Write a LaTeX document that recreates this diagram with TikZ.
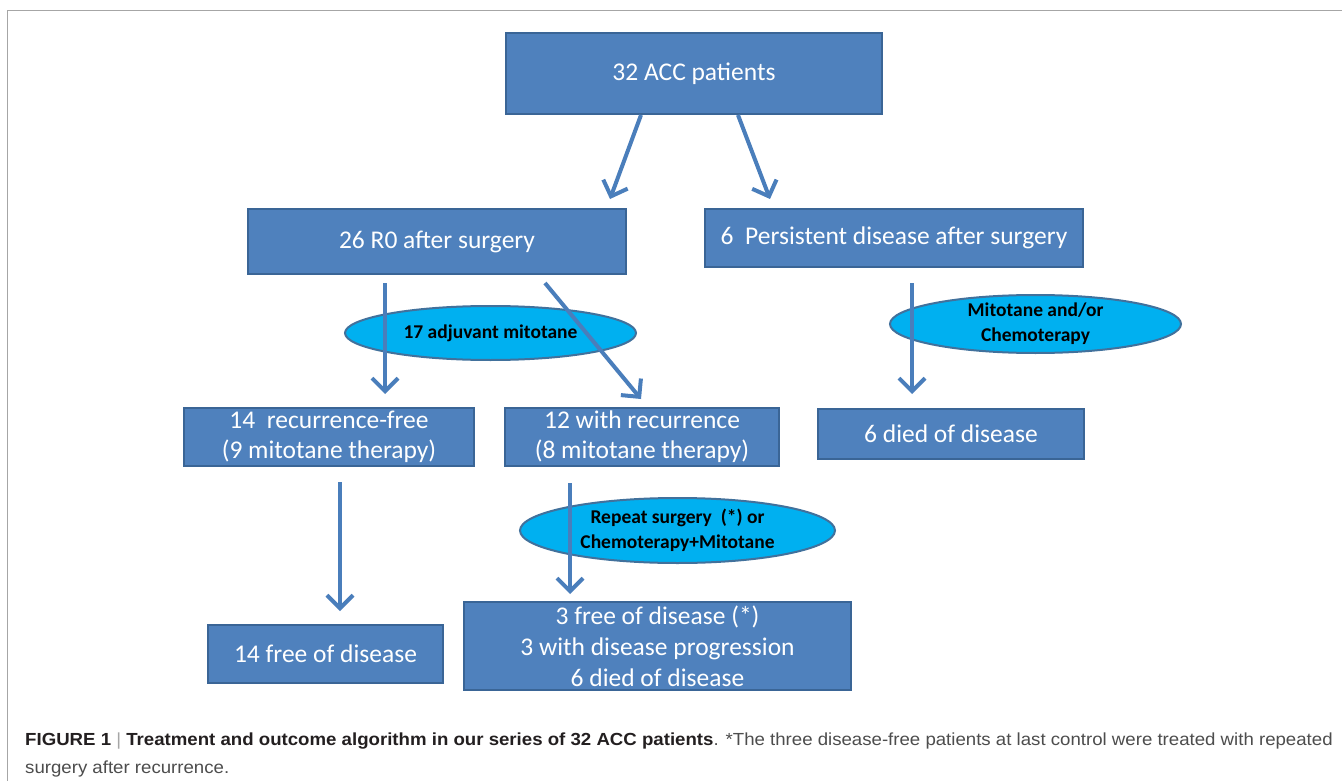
\documentclass[tikz,border=0pt]{standalone}
\usepackage{fontspec}
\setmainfont{Carlito}
\newfontfamily\capfont[FakeStretch=1.065]{Liberation Sans}
\usetikzlibrary{arrows.meta,shapes.geometric}
\definecolor{boxfill}{HTML}{4F81BD}
\definecolor{boxdraw}{HTML}{3A6596}
\definecolor{ellfill}{HTML}{00B0F0}
\definecolor{elldraw}{HTML}{41719C}
\definecolor{arrowc}{HTML}{4A7EBB}
\definecolor{framec}{HTML}{A6A6A6}
\definecolor{capgray}{HTML}{4D4D4D}
\definecolor{capdark}{HTML}{231F20}
\begin{document}
\begin{tikzpicture}[x=1pt,y=-1pt,
  box/.style={draw=boxdraw,fill=boxfill,line width=2pt,text=white,
    font=\fontsize{25.5}{30}\selectfont,align=center,inner sep=0pt},
  oval/.style={ellipse,draw=elldraw,fill=ellfill,line width=2pt,inner sep=0pt},
  ovaltext/.style={font=\bfseries\fontsize{19.5}{25}\selectfont,align=center,inner sep=0pt},
  flow/.style={draw=arrowc,line width=4pt,-{Straight Barb[length=13pt,width=26pt]}},
  captext/.style={anchor=base west,inner sep=0pt,font=\capfont\fontsize{17.5}{20}\selectfont}]
\useasboundingbox[fill=white] (0,0) rectangle (1342,781);
\draw[framec,line width=1.5pt] (7.5,781) -- (7.5,10.5) -- (1342,10.5);
% boxes
\node[box,minimum width=376pt,minimum height=81pt] (b1) at (694,73.5) {32 ACC patients};
\node[box,minimum width=378pt,minimum height=65pt] (b2) at (437,241.5) {26 R0 after surgery};
\node[box,minimum width=378pt,minimum height=58pt] (b3) at (894,238) {6\ \ Persistent disease after surgery};
\node[box,minimum width=290pt,minimum height=58pt] (b4) at (329,437) {14\ \ recurrence-free\\(9 mitotane therapy)};
\node[box,minimum width=274pt,minimum height=58pt] (b5) at (642,437) {12 with recurrence\\(8 mitotane therapy)};
\node[box,minimum width=266pt,minimum height=50pt] (b6) at (951,434) {6 died of disease};
\node[box,minimum width=235pt,minimum height=58pt] (b7) at (325.5,654) {14 free of disease};
\node[box,minimum width=387pt,minimum height=88pt,font=\fontsize{25.5}{31}\selectfont] (b8) at (657.5,646) {3 free of disease (*)\\3 with disease progression\\6 died of disease};
% ellipses
\node[oval,minimum width=291pt,minimum height=54pt] (e1) at (490.5,333) {};
\node[ovaltext] (e1t) at (e1) {17 adjuvant mitotane};
\node[oval,minimum width=291pt,minimum height=58pt] (e2) at (1035.5,324) {};
\node[ovaltext] (e2t) at (e2) {Mitotane and/or\\Chemoterapy};
\node[oval,minimum width=315pt,minimum height=65pt] (e3) at (677.5,530.5) {};
\node[ovaltext] (e3t) at (e3) {Repeat surgery\ \ (*) or\\Chemoterapy+Mitotane};
% arrow ends
\coordinate (t1) at (610,199);
\coordinate (t2) at (770,199);
\coordinate (s3) at (385,283);
\coordinate (t3) at (385,394);
\coordinate (s4) at (545,283);
\coordinate (t4) at (641,399);
\coordinate (s5) at (912,283);
\coordinate (t5) at (912,394);
\coordinate (s6) at (340,482);
\coordinate (t6) at (340,611);
\coordinate (s7) at (570,483);
\coordinate (t7) at (570,594);
\draw[flow] ([xshift=-53pt]b1.south) -- (t1);
\draw[flow] ([xshift=44pt]b1.south) -- (t2);
\draw[flow] (s3) -- (t3);
\draw[flow] (s4) -- (t4);
\draw[flow] (s5) -- (t5);
\draw[flow] (s6) -- (t6);
\draw[flow] (s7) -- (t7);
% caption
\node[captext] (cap1) at (25,745) {\textcolor{capdark}{\textbf{FIGURE 1}} \textcolor{framec}{|} \textcolor{capdark}{\textbf{Treatment and outcome algorithm in our series of 32 ACC patients}}\textcolor{capgray}{. *The three disease-free patients at last control were treated with repeated}};
\node[captext,text=capgray] (cap2) at (25,773) {surgery after recurrence.};
\end{tikzpicture}
\end{document}
